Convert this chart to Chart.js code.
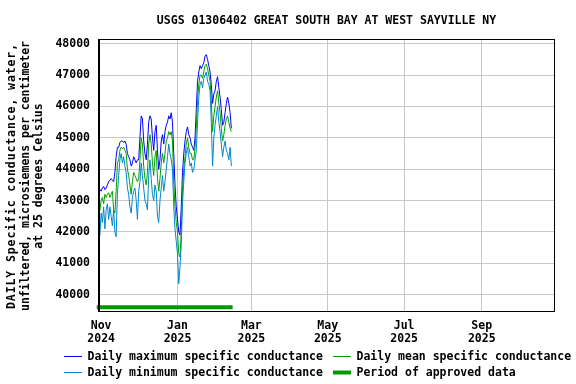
<!DOCTYPE html>
<html>
<head>
<meta charset="utf-8">
<script src="https://cdn.jsdelivr.net/npm/chart.js@4/dist/chart.umd.min.js"></script>
<style>
  html, body { margin: 0; padding: 0; background: #ffffff; }
  #wrap { width: 576px; height: 384px; position: relative; }
</style>
</head>
<body>
<div id="wrap"><canvas id="c" width="576" height="384"></canvas></div>
<script>
// ---- Data (days counted relative to 2025-01-01; first value is 2024-10-30) ----
const chartTitle = 'USGS 01306402 GREAT SOUTH BAY AT WEST SAYVILLE NY';
const yTitleLines = ['DAILY Specific conductance, water,', 'unfiltered, microsiemens per centimeter', 'at 25 degrees Celsius'];
const firstDay = -63; // 2024-10-30

const dailyMax = [
  43250, 43350, 43300, 43400, 43450, 43350, 43400, 43500, 43600, 43650, 43700, 43650, 43600, 43900, 44400, 44700,
  44700, 44850, 44900, 44900, 44850, 44900, 44800, 44500,
  44400, 44300, 44100, 44200, 44400, 44300, 44200, 44300,
  44300, 45000, 45700, 45600, 44900, 44500, 44300, 44800, 45500, 45700,
  45600, 45000, 44600, 45200, 45400, 44600, 44000, 44300, 44900, 45100,
  44800, 45200, 45400, 45500, 45700, 45600, 45800, 45500, 44500, 43500,
  42800, 42400, 42000, 41900, 42800, 43900, 44500, 44900, 45200, 45350,
  45100, 45000, 44800, 44700, 44600, 45000, 45900, 46800, 47100, 47300,
  47200, 47300, 47400, 47600, 47650, 47500, 47300, 47100, 46700, 46100,
  46400, 46500, 46800, 46950, 46600, 46300, 45900, 45400, 45500, 45800,
  46100, 46300, 46100, 45800, 45300
];
const dailyMean = [
  42800, 42700, 43000, 43100, 42900, 43200, 43100, 43200, 43250, 43100, 43200, 43300, 42700, 42600, 43300, 44200,
  44300, 44600, 44700, 44650, 44700, 44600, 44500, 44000,
  43800, 43500, 43200, 43600, 43900, 43800, 43700, 43600,
  43700, 44300, 45000, 44800, 44100, 43700, 43500, 43900, 44800, 45100,
  44800, 44200, 43800, 44400, 44600, 43700, 43300, 43700, 44200, 44500,
  44200, 44500, 44900, 45000, 45200, 45100, 45200, 44900, 43600, 42800,
  42300, 42000, 41300, 41200, 42000, 43300, 44000, 44400, 44800, 45000,
  44700, 44500, 44500, 44300, 44300, 44700, 45300, 46200, 46700, 47000,
  47000, 46900, 47100, 47300, 47350, 47200, 47000, 46800, 46200, 45200,
  45700, 46000, 46300, 46500, 46100, 45800, 45300, 44900, 45100, 45400,
  45600, 45700, 45500, 45300, 45200
];
const dailyMin = [
  42200, 41900, 42600, 42300, 42800, 42100, 42700, 42900, 42400, 42800, 42500, 42200, 42700, 42000, 41850, 43200,
  43800, 44300, 44500, 44200, 44400, 44100, 43900, 43400,
  43200, 42800, 42600, 43100, 43300, 43400, 43000, 42400,
  43300, 43600, 44200, 43800, 43400, 43000, 42900, 42700, 43800, 44300,
  43700, 43200, 43000, 43500, 43300, 42500, 42300, 43000, 43400, 43800,
  43300, 43600, 44000, 44400, 44800, 44500, 44300, 44000, 42800, 42100,
  41700, 41300, 40350, 40900, 41600, 42900, 43600, 44200, 44500, 44700,
  44400, 44100, 44200, 43900, 44000, 44300, 44600, 45500, 46300, 46700,
  46800, 46600, 46900, 47000, 47100, 46800, 46700, 46500, 45500, 44100,
  45000, 45400, 45700, 46000, 45500, 45200, 44800, 44400, 44700, 44900,
  44600, 44500, 44300, 44700, 44100
];
const approvedPeriod = [-64.5, 44];   // start / end day of approved data
const approvedLevel = 39600;

const xTickDays = [-61, 0, 59, 120, 181, 243];
const xTickLabels = [['Nov', '2024'], ['Jan', '2025'], ['Mar', '2025'], ['May', '2025'], ['Jul', '2025'], ['Sep', '2025']];
const yTicks = [40000, 41000, 42000, 43000, 44000, 45000, 46000, 47000, 48000];

const seriesNames = ['Daily maximum specific conductance', 'Daily mean specific conductance', 'Daily minimum specific conductance', 'Period of approved data'];
const colors = { max: '#0000ff', mean: '#00a000', min: '#0088cc', approved: '#009900', grid: '#c8c8c8' };

// ---- build ----
const toPoints = arr => arr.map((v, i) => ({ x: firstDay + i, y: v }));
const FONT = '"DejaVu Sans Mono", monospace';

const overlay = {
  id: 'overlay',
  afterDraw(chart) {
    const ctx = chart.ctx, a = chart.chartArea;
    ctx.save();
    // plot frame
    ctx.strokeStyle = '#000';
    ctx.lineWidth = 1;
    ctx.strokeRect(Math.round(a.left) + 0.5, Math.round(a.top) + 0.5, Math.round(a.right - a.left) - 1, Math.round(a.bottom - a.top) - 1);
    ctx.beginPath();
    ctx.moveTo(Math.round(a.left) + 1.5, a.top);
    ctx.lineTo(Math.round(a.left) + 1.5, a.bottom);
    ctx.stroke();
    // title
    ctx.fillStyle = '#000';
    ctx.font = 'bold 11.5px ' + FONT;
    ctx.textAlign = 'center';
    ctx.textBaseline = 'middle';
    ctx.fillText(chartTitle, (a.left + a.right) / 2, 21);
    // y title
    const yc = (a.top + a.bottom) / 2 + 0.5;
    const xs = [12, 26, 39.5];
    const spacing = ['0.9px', '0px', '0px'];
    yTitleLines.forEach((t, i) => {
      ctx.save();
      ctx.translate(xs[i], yc);
      ctx.rotate(-Math.PI / 2);
      if ('letterSpacing' in ctx) ctx.letterSpacing = spacing[i];
      ctx.fillText(t, 0, 0);
      ctx.restore();
    });
    // legend
    ctx.textAlign = 'left';
    const items = [
      { c: colors.max, w: 1, x: 64, y: 356.5, t: seriesNames[0] },
      { c: colors.mean, w: 1, x: 333, y: 356.5, t: seriesNames[1] },
      { c: colors.min, w: 1, x: 64, y: 372.5, t: seriesNames[2] },
      { c: colors.approved, w: 4, x: 333, y: 372.5, t: seriesNames[3] }
    ];
    items.forEach(it => {
      ctx.strokeStyle = it.c;
      ctx.lineWidth = it.w;
      ctx.beginPath();
      ctx.moveTo(it.x, it.y);
      ctx.lineTo(it.x + 18, it.y);
      ctx.stroke();
      ctx.fillStyle = '#000';
      ctx.fillText(it.t, it.x + 23.5, it.y + 0.5);
    });
    ctx.restore();
  }
};

new Chart(document.getElementById('c'), {
  type: 'line',
  data: {
    datasets: [
      { label: seriesNames[0], data: toPoints(dailyMax), borderColor: colors.max, borderWidth: 1, pointRadius: 0, tension: 0, order: 3 },
      { label: seriesNames[1], data: toPoints(dailyMean), borderColor: colors.mean, borderWidth: 1, pointRadius: 0, tension: 0, order: 2 },
      { label: seriesNames[2], data: toPoints(dailyMin), borderColor: colors.min, borderWidth: 1, pointRadius: 0, tension: 0, order: 1 },
      { label: seriesNames[3], data: approvedPeriod.map(d => ({ x: d, y: approvedLevel })), borderColor: colors.approved, borderWidth: 4, pointRadius: 0, order: 0, clip: false }
    ]
  },
  options: {
    responsive: false,
    animation: false,
    devicePixelRatio: 1,
    layout: { padding: { left: 0, right: 21, top: 39, bottom: 0 } },
    plugins: { legend: { display: false }, tooltip: { enabled: false }, title: { display: false } },
    scales: {
      x: {
        type: 'linear',
        min: -63.5,
        max: 301.5,
        afterBuildTicks: s => { s.ticks = xTickDays.map(v => ({ value: v })); },
        afterFit: s => { s.height = 72; },
        ticks: {
          autoSkip: false,
          maxRotation: 0,
          padding: 7,
          color: '#000',
          font: { family: FONT, size: 11.5, weight: 'bold', lineHeight: '13.5px' },
          callback: (v) => xTickLabels[xTickDays.indexOf(v)]
        },
        grid: {
          drawTicks: false,
          color: c => (c.tick && c.tick.value === xTickDays[0]) ? 'rgba(0,0,0,0)' : colors.grid,
          lineWidth: 1
        },
        border: { display: false }
      },
      y: {
        type: 'linear',
        min: 39450,
        max: 48150,
        afterBuildTicks: s => { s.ticks = yTicks.map(v => ({ value: v })); },
        afterFit: s => { s.width = 98; },
        ticks: {
          padding: 8,
          color: '#000',
          font: { family: FONT, size: 11.5, weight: 'bold' },
          callback: v => String(v)
        },
        grid: { drawTicks: false, color: colors.grid, lineWidth: 1 },
        border: { display: false }
      }
    }
  },
  plugins: [overlay]
});
</script>
</body>
</html>
